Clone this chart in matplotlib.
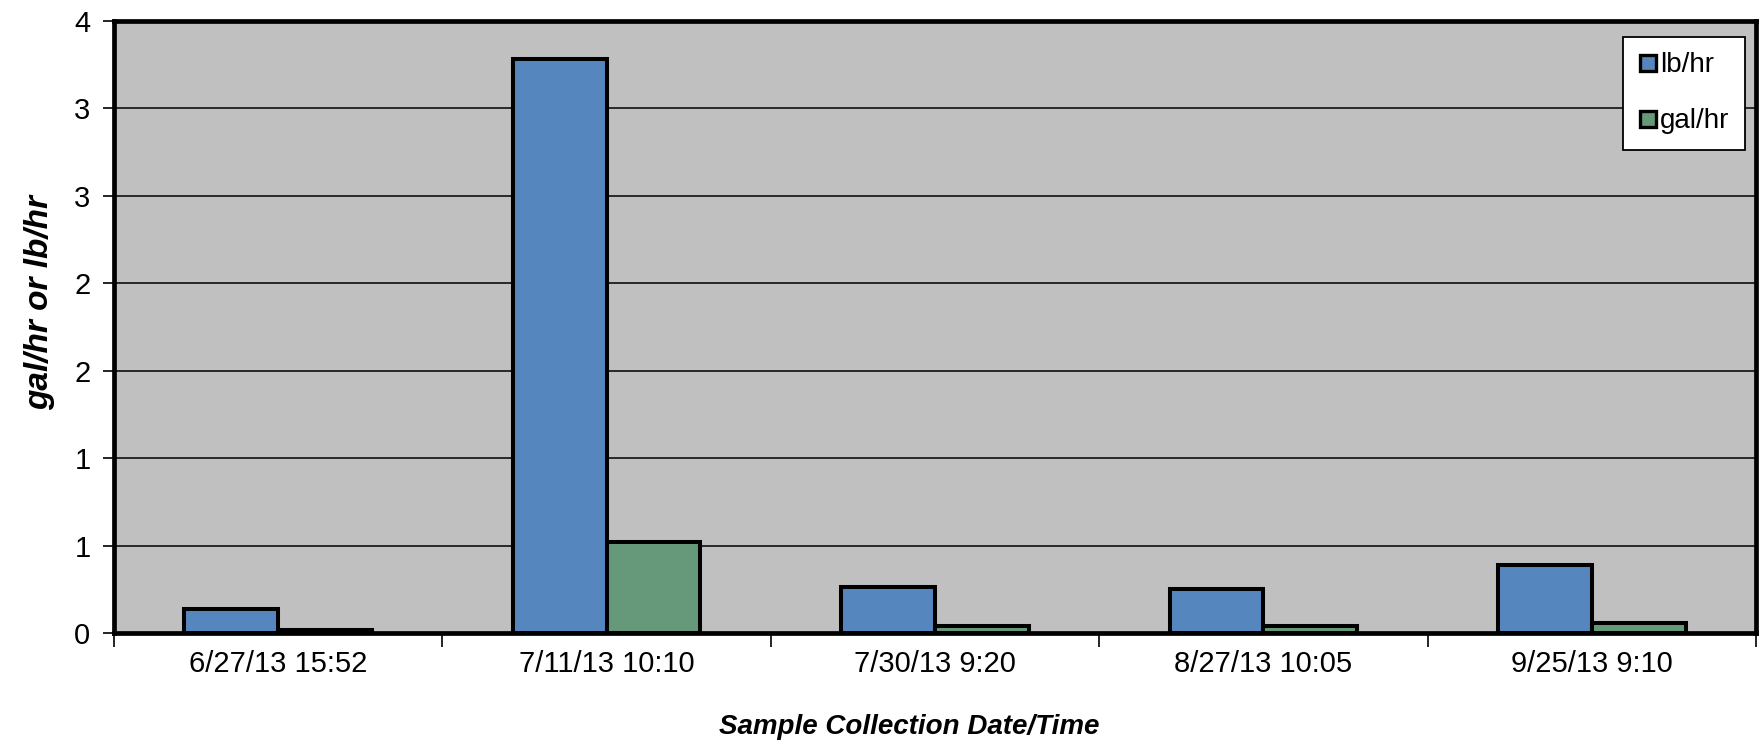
import matplotlib
matplotlib.use("Agg")
import matplotlib.pyplot as plt
from matplotlib.lines import Line2D
import numpy as np

categories = ["6/27/13 15:52", "7/11/13 10:10", "7/30/13 9:20", "8/27/13 10:05", "9/25/13 9:10"]
lb_hr = [0.135, 3.28, 0.265, 0.25, 0.39]
gal_hr = [0.02, 0.52, 0.04, 0.04, 0.06]
series_names = ["lb/hr", "gal/hr"]
y_ticks = [0, 0.5, 1.0, 1.5, 2.0, 2.5, 3.0, 3.5]
y_tick_labels = ["0", "1", "1", "2", "2", "3", "3", "4"]

blue = "#5587BE"
green = "#66997A"

plt.rcParams['font.family'] = ['Liberation Sans', 'DejaVu Sans']

fig = plt.figure(figsize=(17.6, 7.44), dpi=100)
ax = fig.add_axes([114/1760, 1 - 633/744, (1756-114)/1760, (633-21)/744])
ax.set_facecolor("#C0C0C0")

x = np.arange(len(categories))
w = 1/3.5
ax.bar(x - w/2, lb_hr, width=w, color=blue, edgecolor="black", linewidth=2.9, zorder=3, label=series_names[0])
ax.bar(x + w/2, gal_hr, width=w, color=green, edgecolor="black", linewidth=2.9, zorder=3, label=series_names[1])

ax.set_xlim(-0.5, len(categories) - 0.5)
ax.set_ylim(y_ticks[0], y_ticks[-1])
ax.set_yticks(y_ticks)
ax.set_yticklabels(y_tick_labels, fontsize=21)
ax.yaxis.grid(True, color="black", linewidth=1.1, zorder=1)
ax.set_axisbelow(True)

ax.set_xticks(np.arange(len(categories) + 1) - 0.5)
ax.set_xticklabels([])
ax.set_xticks(x, minor=True)
ax.set_xticklabels(categories, minor=True, fontsize=21)
ax.tick_params(axis='x', which='major', length=10, width=1.2, direction='out')
ax.tick_params(axis='x', which='minor', length=0, pad=12)
ax.tick_params(axis='y', length=8, width=1.2, direction='out', pad=9)

for s in ax.spines.values():
    s.set_linewidth(3.4)
    s.set_color("black")

ax.set_xlabel("Sample Collection Date/Time", fontsize=20, fontweight='bold', fontstyle='italic')
ax.xaxis.set_label_coords(0.484, -0.133)
ax.set_ylabel("gal/hr or lb/hr", fontsize=24, fontweight='bold', fontstyle='italic')
ax.yaxis.set_label_coords(-0.036, 0.54)

handles = [Line2D([], [], linestyle='none', marker='s', markersize=12, markerfacecolor=c,
                  markeredgecolor='black', markeredgewidth=2.4) for c in (blue, green)]
leg = fig.legend(handles, series_names, loc='upper right', bbox_to_anchor=(1745/1760, 1 - 37/744),
                 bbox_transform=fig.transFigure, fontsize=20, frameon=True, fancybox=False,
                 framealpha=1, borderpad=0.55, labelspacing=1.08, handlelength=0.7,
                 handletextpad=0.1, borderaxespad=0)
leg.get_frame().set_edgecolor("black")
leg.get_frame().set_linewidth(1.3)
leg.get_frame().set_facecolor("white")

fig.savefig("out.png", dpi=100)
